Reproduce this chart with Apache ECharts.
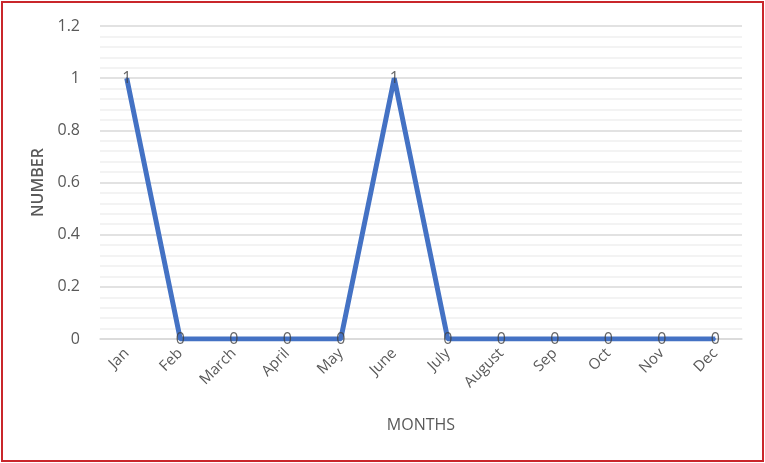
<!DOCTYPE html>
<html>
<head>
<meta charset="utf-8">
<script src="https://cdn.jsdelivr.net/npm/echarts@6/dist/echarts.min.js"></script>
<style>
  html, body { margin: 0; padding: 0; background: #fff; }
  #frame { position: absolute; left: 1px; top: 1px; width: 759px; height: 457px; border: 2px solid #c9262b; }
  #chart { position: absolute; left: 0; top: 0; width: 765px; height: 463px; }
</style>
</head>
<body>
<div id="chart"></div>
<div id="frame"></div>
<script>
// Monthly counts.
const months = ['Jan', 'Feb', 'March', 'April', 'May', 'June', 'July', 'August', 'Sep', 'Oct', 'Nov', 'Dec'];
const counts = [1, 0, 0, 0, 0, 1, 0, 0, 0, 0, 0, 0];
const yTicks = { min: 0, max: 1.2, interval: 0.2 };

const textColor = '#595959';
const chart = echarts.init(document.getElementById('chart'));
chart.setOption({
  animation: false,
  grid: { left: 100, right: 23, top: 26, bottom: 124 },
  xAxis: {
    type: 'category',
    data: months,
    name: 'MONTHS',
    nameLocation: 'middle',
    nameGap: 78,
    nameTextStyle: { color: textColor, fontSize: 16, fontFamily: 'Open Sans' },
    axisLine: { lineStyle: { color: '#d9d9d9', width: 1.5 } },
    axisTick: { show: false },
    axisLabel: { rotate: 45, color: textColor, fontSize: 15, fontFamily: 'Open Sans', margin: 12, interval: 0 },
  },
  yAxis: {
    type: 'value',
    min: yTicks.min,
    max: yTicks.max,
    interval: yTicks.interval,
    name: 'NUMBER',
    nameLocation: 'middle',
    nameGap: 52,
    nameTextStyle: { color: textColor, fontSize: 16, fontWeight: 600, fontFamily: 'Open Sans' },
    axisLine: { show: false },
    axisTick: { show: false },
    axisLabel: { color: textColor, fontSize: 16, fontFamily: 'Open Sans', margin: 20,
      formatter: (v) => String(Math.round(v * 10) / 10) },
    splitLine: { lineStyle: { color: '#d9d9d9', width: 1.5 } },
    minorTick: { show: false, splitNumber: 5 },
    minorSplitLine: { show: true, lineStyle: { color: '#efefef', width: 1.5 } },
  },
  series: [
    {
      type: 'line',
      data: counts,
      symbol: 'none',
      lineStyle: { color: '#4472c4', width: 5 },
      z: 2,
    },
    {
      // value labels centred on each point, drawn over the line
      type: 'scatter',
      data: counts,
      symbolSize: 2,
      itemStyle: { color: '#4472c4' },
      z: 3,
      label: {
        show: true,
        position: 'inside',
        color: '#404040',
        fontSize: 16,
        fontFamily: 'Open Sans',
      },
    },
  ],
});
</script>
</body>
</html>
